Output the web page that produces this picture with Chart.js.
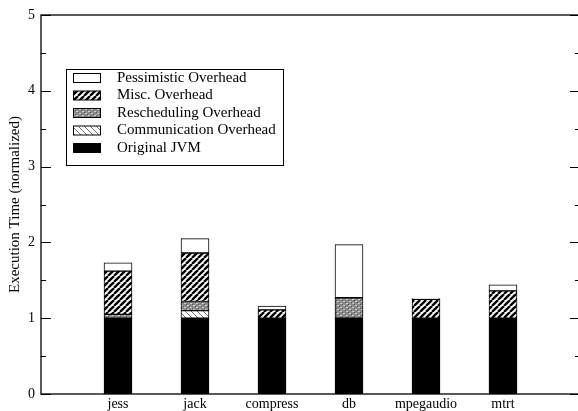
<!DOCTYPE html>
<html>
<head>
<meta charset="utf-8">
<script src="https://cdn.jsdelivr.net/npm/chart.js@4/dist/chart.umd.min.js"></script>
<style>
  html, body { margin: 0; padding: 0; background: #fff; overflow: hidden; }
  #wrap { width: 590px; height: 411px; }
</style>
</head>
<body>
<div id="wrap"><canvas id="c" width="590" height="411"></canvas></div>
<script>
// Benchmarks and the stacked components of their normalized execution time
const benchmarks    = ['jess', 'jack', 'compress', 'db', 'mpegaudio', 'mtrt'];
const originalJVM   = [1.00, 1.00, 1.00, 1.00, 1.00, 1.00];
const communication = [0.00, 0.10, 0.00, 0.00, 0.00, 0.00];
const rescheduling  = [0.05, 0.12, 0.00, 0.27, 0.00, 0.00];
const miscOverhead  = [0.57, 0.64, 0.11, 0.00, 0.25, 0.36];
const pessimistic   = [0.11, 0.19, 0.05, 0.70, 0.01, 0.08];
const yTickValues   = [0, 1, 2, 3, 4, 5];

const FONT = '"Liberation Serif", "Times New Roman", serif';
const canvas = document.getElementById('c');
const ctx = canvas.getContext('2d');

function makePattern(w, h, draw) {
  const t = document.createElement('canvas');
  t.width = w; t.height = h;
  const g = t.getContext('2d');
  draw(g, w, h);
  return ctx.createPattern(t, 'repeat');
}

// thick black "////" hatching
const miscFill = makePattern(6, 6, (g, w, h) => {
  g.fillStyle = '#fff'; g.fillRect(0, 0, w, h);
  g.strokeStyle = '#000'; g.lineWidth = 2.4;
  for (const k of [-w, 0, w]) { g.beginPath(); g.moveTo(k, h); g.lineTo(k + w, 0); g.stroke(); }
});
// grey textured fill
const reschedFill = makePattern(6, 4, (g, w, h) => {
  g.fillStyle = '#8a8a8a'; g.fillRect(0, 0, w, h);
  g.fillStyle = '#cfcfcf';
  g.fillRect(1, 1, 2, 1); g.fillRect(4, 3, 2, 1);
  g.fillStyle = '#555';
  g.fillRect(0, 0, 1, 1); g.fillRect(3, 2, 1, 1);
});
// thin grey "\\\\" hatching
const commFill = makePattern(6, 6, (g, w, h) => {
  g.fillStyle = '#fff'; g.fillRect(0, 0, w, h);
  g.strokeStyle = '#707070'; g.lineWidth = 1;
  for (const k of [-w, 0, w]) { g.beginPath(); g.moveTo(k, 0); g.lineTo(k + w, h); g.stroke(); }
});

// empty slots on each side of the benchmarks along the x axis
const slotLabels = ['', ...benchmarks, ''];
const pad = arr => [null, ...arr.map(v => (v > 0 ? v : null)), null];

const series = [
  { label: 'Original JVM',           data: originalJVM,   fill: '#000' },
  { label: 'Communication Overhead', data: communication, fill: commFill },
  { label: 'Rescheduling Overhead',  data: rescheduling,  fill: reschedFill },
  { label: 'Misc. Overhead',         data: miscOverhead,  fill: miscFill },
  { label: 'Pessimistic Overhead',   data: pessimistic,   fill: '#fff' }
];

// frame around the plot with inward ticks on both vertical sides
const framePlugin = {
  id: 'frame',
  afterDraw(chart) {
    const { ctx, chartArea: a, scales: { y } } = chart;
    ctx.save();
    ctx.strokeStyle = '#000';
    ctx.lineWidth = 1.3;
    ctx.strokeRect(a.left, a.top, a.right - a.left, a.bottom - a.top);
    ctx.lineWidth = 1;
    for (let v = 0; v <= 5; v += 0.5) {
      const py = Math.round(y.getPixelForValue(v)) + 0.5;
      const len = Number.isInteger(v) ? 10 : 5;
      ctx.beginPath();
      ctx.moveTo(a.left, py); ctx.lineTo(a.left + len, py);
      ctx.moveTo(a.right, py); ctx.lineTo(a.right - len, py);
      ctx.stroke();
    }
    ctx.restore();
  }
};

// boxed legend inside the plot, top entry = top of the stack
const legendPlugin = {
  id: 'boxLegend',
  afterDraw(chart) {
    const { ctx } = chart;
    const box = { x: 66.5, y: 69.5, w: 217, h: 96 };
    ctx.save();
    ctx.fillStyle = '#fff';
    ctx.fillRect(box.x, box.y, box.w, box.h);
    ctx.strokeStyle = '#000'; ctx.lineWidth = 1;
    ctx.strokeRect(box.x, box.y, box.w, box.h);
    const items = chart.data.datasets.slice().reverse();
    ctx.font = '15px ' + FONT;
    ctx.textBaseline = 'middle';
    items.forEach((ds, i) => {
      const cy = 78 + i * 17.5;
      ctx.fillStyle = ds.backgroundColor;
      ctx.fillRect(73, cy - 4.5, 27, 9);
      ctx.strokeStyle = '#000';
      ctx.strokeRect(73.5, cy - 4.5, 27, 9);
      ctx.fillStyle = '#000';
      ctx.fillText(ds.label, 117, cy);
    });
    ctx.restore();
  }
};

new Chart(canvas, {
  type: 'bar',
  data: {
    labels: slotLabels,
    datasets: series.map(s => ({
      label: s.label,
      data: pad(s.data),
      backgroundColor: s.fill,
      borderColor: '#000',
      borderWidth: 1,
      borderSkipped: false,
      barThickness: 28
    }))
  },
  options: {
    responsive: false,
    animation: false,
    devicePixelRatio: 1,
    layout: { padding: { top: 15, right: 10, left: 0, bottom: 0 } },
    plugins: { legend: { display: false }, tooltip: { enabled: false } },
    scales: {
      x: {
        stacked: true,
        offset: false,
        grid: { display: false, drawTicks: false },
        border: { display: false },
        ticks: { color: '#000', font: { family: FONT, size: 14 }, padding: 2, autoSkip: false, maxRotation: 0 },
        afterFit(s) { s.height = 17; }
      },
      y: {
        stacked: true,
        min: 0, max: 5,
        afterBuildTicks(s) { s.ticks = yTickValues.map(v => ({ value: v })); },
        grid: { display: false, drawTicks: false },
        border: { display: false },
        ticks: { color: '#000', font: { family: FONT, size: 14 }, padding: 6 },
        title: {
          display: true,
          text: 'Execution Time (normalized)',
          color: '#000',
          font: { family: FONT, size: 15 },
          padding: { top: 6, bottom: 0 }
        },
        afterFit(s) { s.width = 41; }
      }
    }
  },
  plugins: [framePlugin, legendPlugin]
});
</script>
</body>
</html>
